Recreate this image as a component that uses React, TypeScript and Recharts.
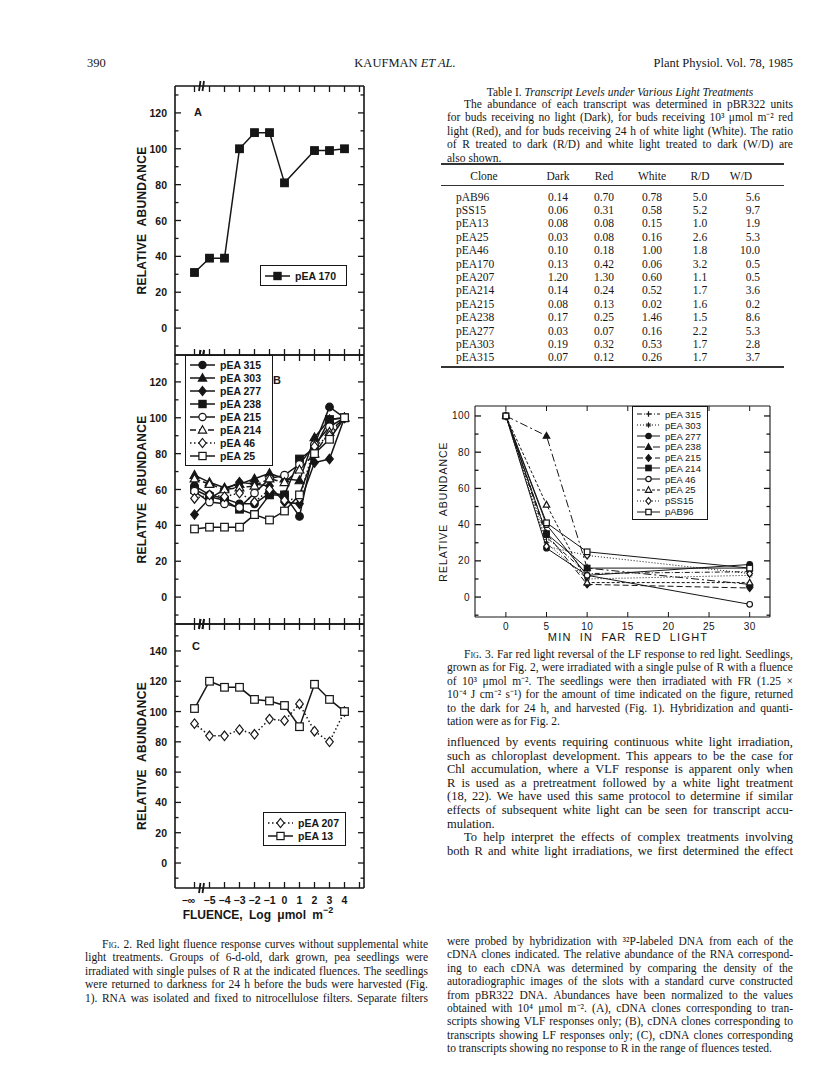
import React from "react";
import { LineChart, Line, XAxis, YAxis, Label } from "recharts";

// ---------- Fig. 2 data (x = log fluence; -6 stands for -∞) ----------
const fluence = [-6, -5, -4, -3, -2, -1, 0, 1, 2, 3, 4];
const fluenceTicks = [-6, -5.5, -5, -4, -3, -2, -1, 0, 1, 2, 3, 4, 5];

const pEA170 = [31, 39, 39, 100, 109, 109, 81, null, 99, 99, 100];

const pEA315 = [62, 57, 55, 52, 52, 58, 57, 45, 85, 106, 100];
const pEA303 = [68, 64, 61, 63, 66, 69, 66, 65, 89, 99, 100];
const pEA277 = [46, 55, 60, 64, 63, 62, 53, 52, 75, 77, 100];
const pEA238 = [60, 56, 54, 49, 46, 57, 57, 77, 83, 99, 100];
const pEA215 = [59, 53, 52, 50, 58, 66, 68, 74, 85, 95, 100];
const pEA214 = [66, 63, 60, 61, 62, 66, 64, 71, 80, 92, 100];
const pEA46 = [55, 57, 56, 58, 53, 60, 54, 55, 84, 90, 100];
const pEA25 = [38, 39, 39, 39, 46, 43, 48, 57, 80, 88, 100];

const pEA207 = [92, 84, 84, 88, 85, 95, 94, 105, 87, 80, 100];
const pEA13 = [102, 120, 116, 116, 108, 107, 104, 90, 118, 108, 100];

// ---------- Fig. 3 data ----------
const minutes = [0, 5, 10, 30];
const fr315 = [100, 33, 13, 14];
const fr303 = [100, 30, 10, 12];
const fr277 = [100, 27, 12, 18];
const fr238 = [100, 89, 16, 7];
const fr215 = [100, 35, 7, 5];
const fr214 = [100, 35, 16, 16];
const fr46 = [100, 40, 12, -4];
const fr25 = [100, 51, 8, 8];
const frSS15 = [100, 28, 23, 13];
const frAB96 = [100, 41, 25, 16];

// ---------- Table I ----------
const clones = ["pAB96", "pSS15", "pEA13", "pEA25", "pEA46", "pEA170", "pEA207", "pEA214", "pEA215", "pEA238", "pEA277", "pEA303", "pEA315"];
const darkVals = ["0.14", "0.06", "0.08", "0.03", "0.10", "0.13", "1.20", "0.14", "0.08", "0.17", "0.03", "0.19", "0.07"];
const redVals = ["0.70", "0.31", "0.08", "0.08", "0.18", "0.42", "1.30", "0.24", "0.13", "0.25", "0.07", "0.32", "0.12"];
const whiteVals = ["0.78", "0.58", "0.15", "0.16", "1.00", "0.06", "0.60", "0.52", "0.02", "1.46", "0.16", "0.53", "0.26"];
const rdVals = ["5.0", "5.2", "1.0", "2.6", "1.8", "3.2", "1.1", "1.7", "1.6", "1.5", "2.2", "1.7", "1.7"];
const wdVals = ["5.6", "9.7", "1.9", "5.3", "10.0", "0.5", "0.5", "3.6", "0.2", "8.6", "5.3", "2.8", "3.7"];

const INK = "#161616";
const SANS = "'Liberation Sans', Arial, Helvetica, sans-serif";
const SERIF = "'Liberation Serif', 'Times New Roman', serif";

type Shape = "circle" | "square" | "triangle" | "diamond" | "plus" | "star";
type Series = { name: string; values: (number | null)[]; shape: Shape; filled: boolean; dash?: string };

const panelA: Series[] = [{ name: "pEA 170", values: pEA170, shape: "square", filled: true }];
const panelB: Series[] = [
  { name: "pEA 315", values: pEA315, shape: "circle", filled: true },
  { name: "pEA 303", values: pEA303, shape: "triangle", filled: true },
  { name: "pEA 277", values: pEA277, shape: "diamond", filled: true },
  { name: "pEA 238", values: pEA238, shape: "square", filled: true },
  { name: "pEA 215", values: pEA215, shape: "circle", filled: false },
  { name: "pEA 214", values: pEA214, shape: "triangle", filled: false, dash: "6 3" },
  { name: "pEA 46", values: pEA46, shape: "diamond", filled: false, dash: "1.5 2.5" },
  { name: "pEA 25", values: pEA25, shape: "square", filled: false },
];
const panelC: Series[] = [
  { name: "pEA 207", values: pEA207, shape: "diamond", filled: false, dash: "1.5 2.5" },
  { name: "pEA 13", values: pEA13, shape: "square", filled: false },
];
const fig3: Series[] = [
  { name: "pEA 315", values: fr315, shape: "plus", filled: false, dash: "5 2 1 2" },
  { name: "pEA 303", values: fr303, shape: "star", filled: false, dash: "1 2" },
  { name: "pEA 277", values: fr277, shape: "circle", filled: true },
  { name: "pEA 238", values: fr238, shape: "triangle", filled: true, dash: "8 3 2 3" },
  { name: "pEA 215", values: fr215, shape: "diamond", filled: true, dash: "6 3" },
  { name: "pEA 214", values: fr214, shape: "square", filled: true },
  { name: "pEA 46", values: fr46, shape: "circle", filled: false },
  { name: "pEA 25", values: fr25, shape: "triangle", filled: false, dash: "3 2" },
  { name: "pSS15", values: frSS15, shape: "diamond", filled: false, dash: "1 2" },
  { name: "pAB96", values: frAB96, shape: "square", filled: false },
];

const toRows = (xs: number[], series: Series[]) =>
  xs.map((x, i) => {
    const row: any = { x };
    series.forEach((s, j) => (row["s" + j] = s.values[i]));
    return row;
  });

function Marker({ cx, cy, shape, filled, r }: any) {
  if (cx == null || cy == null || isNaN(cy)) return <g />;
  const p = { stroke: INK, strokeWidth: 1.2, fill: filled ? INK : "#fff" };
  switch (shape) {
    case "circle":
      return <circle cx={cx} cy={cy} r={r} {...p} />;
    case "square":
      return <rect x={cx - r} y={cy - r} width={2 * r} height={2 * r} {...p} />;
    case "triangle":
      return <polygon points={`${cx},${cy - r * 1.2} ${cx + r * 1.15},${cy + r * 0.85} ${cx - r * 1.15},${cy + r * 0.85}`} {...p} />;
    case "diamond":
      return <polygon points={`${cx},${cy - r * 1.25} ${cx + r},${cy} ${cx},${cy + r * 1.25} ${cx - r},${cy}`} {...p} />;
    case "plus":
      return <path d={`M${cx - r},${cy}H${cx + r}M${cx},${cy - r}V${cy + r}`} stroke={INK} strokeWidth={1.2} />;
    default:
      return (
        <path
          d={`M${cx - r},${cy}H${cx + r}M${cx},${cy - r}V${cy + r}M${cx - r * 0.7},${cy - r * 0.7}L${cx + r * 0.7},${cy + r * 0.7}M${cx - r * 0.7},${cy + r * 0.7}L${cx + r * 0.7},${cy - r * 0.7}`}
          stroke={INK}
          strokeWidth={1}
        />
      );
  }
}

// ---------- tick renderers (tickSize 0 / tickMargin 0 so x,y sit on the axis line) ----------
const yTick = (side: "left" | "right", labelMax: number, font: any, labelGap: number) => (p: any) => {
  const v = p.payload.value;
  const major = v % 20 === 0;
  const d = side === "left" ? 1 : -1;
  return (
    <g>
      <line x1={p.x} x2={p.x + d * (major ? 6 : 3.5)} y1={p.y} y2={p.y} stroke={INK} strokeWidth={1.3} />
      {side === "left" && major && v >= 0 && v <= labelMax && (
        <text x={p.x - labelGap} y={p.y} textAnchor="end" dominantBaseline="central" fill={INK} {...font}>
          {v}
        </text>
      )}
    </g>
  );
};

const boldTick = { fontFamily: SANS, fontSize: 10.5, fontWeight: 700 };

const fluenceTick = (side: "top" | "bottom", labels: boolean) => (p: any) => {
  const v = p.payload.value;
  const d = side === "top" ? 1 : -1;
  if (v === -5.5) {
    return (
      <path
        d={`M${p.x - 3},${p.y + 5} L${p.x - 1.5},${p.y - 5} M${p.x + 0.5},${p.y + 5} L${p.x + 2},${p.y - 5}`}
        stroke={INK}
        strokeWidth={1.8}
      />
    );
  }
  const txt = v === -6 ? "−∞" : v < 0 ? "−" + Math.abs(v) : String(v);
  return (
    <g>
      <line x1={p.x} x2={p.x} y1={p.y} y2={p.y + d * 6} stroke={INK} strokeWidth={1.3} />
      {labels && v <= 4 && (
        <text x={v === -6 ? p.x - 6 : p.x} y={p.y + 12} textAnchor="middle" dominantBaseline="central" fill={INK} {...boldTick}>
          {txt}
        </text>
      )}
    </g>
  );
};

const plainTick = { fontFamily: SANS, fontSize: 10, letterSpacing: 0.4 };

const minuteTick = (side: "top" | "bottom") => (p: any) => {
  const d = side === "top" ? 1 : -1;
  return (
    <g>
      <line x1={p.x} x2={p.x} y1={p.y} y2={p.y + d * 5} stroke={INK} strokeWidth={1} />
      {side === "bottom" && (
        <text x={p.x} y={p.y + 9} textAnchor="middle" dominantBaseline="central" fill={INK} {...plainTick}>
          {p.payload.value}
        </text>
      )}
    </g>
  );
};

const verticalTitle = (x: number, bold: boolean) => (props: any) => {
  const vb = props.viewBox;
  const cy = vb.y + vb.height / 2;
  return (
    <text
      x={vb.x + x}
      y={cy}
      transform={`rotate(-90 ${vb.x + x} ${cy})`}
      textAnchor="middle"
      dominantBaseline="central"
      fill={INK}
      fontFamily={SANS}
      fontSize={bold ? 12 : 10.5}
      fontWeight={bold ? 700 : 400}
      letterSpacing={bold ? 0.3 : 1}
      wordSpacing={4}
    >
      RELATIVE ABUNDANCE
    </text>
  );
};

const fluenceTitle = () => (
  <text x={125} y={297} textAnchor="middle" dominantBaseline="central" fill={INK} fontFamily={SANS} fontSize={12} fontWeight={700} wordSpacing={3}>
    FLUENCE, Log μmol m
    <tspan dy={-5} fontSize={9}>−2</tspan>
  </text>
);

const minTitle = () => (
  <text x={193} y={236} textAnchor="middle" dominantBaseline="central" fill={INK} fontFamily={SANS} fontSize={11} letterSpacing={1.2} wordSpacing={4}>
    MIN IN FAR RED LIGHT
  </text>
);

function FluencePanel({ top, height, series, domain, yTicks, labelMax, bottomLabels }: any) {
  const rows = toRows(fluence, series);
  const axisLine = { stroke: INK, strokeWidth: 1.6 };
  return (
    <div style={{ position: "absolute", left: 133, top }}>
      <LineChart width={240} height={height} data={rows} margin={{ top: 0, right: 0, bottom: 0, left: 0 }}>
        <XAxis dataKey="x" type="number" domain={[-7.3, 5.3]} ticks={fluenceTicks} interval={0} allowDataOverflow height={bottomLabels ? 40 : 6} tickSize={0} tickMargin={0} tickLine={false} axisLine={axisLine} tick={fluenceTick("bottom", bottomLabels)}>
          {bottomLabels && <Label content={fluenceTitle} />}
        </XAxis>
        <XAxis xAxisId="top" orientation="top" dataKey="x" type="number" domain={[-7.3, 5.3]} ticks={fluenceTicks} interval={0} allowDataOverflow height={6} tickSize={0} tickMargin={0} tickLine={false} axisLine={axisLine} tick={fluenceTick("top", false)} />
        <YAxis type="number" domain={domain} ticks={yTicks} interval={0} allowDataOverflow width={42} tickSize={0} tickMargin={0} tickLine={false} axisLine={axisLine} tick={yTick("left", labelMax, boldTick, 8)}>
          <Label content={verticalTitle(9, true)} />
        </YAxis>
        <YAxis yAxisId="right" orientation="right" type="number" domain={domain} ticks={yTicks} interval={0} allowDataOverflow width={9} tickSize={0} tickMargin={0} tickLine={false} axisLine={axisLine} tick={yTick("right", labelMax, boldTick, 8)} />
        {series.map((s: Series, j: number) => (
          <Line
            key={s.name}
            dataKey={"s" + j}
            stroke={INK}
            strokeWidth={1.5}
            strokeDasharray={s.dash}
            connectNulls
            isAnimationActive={false}
            activeDot={false}
            dot={(p: any) => <Marker key={p.index} cx={p.cx} cy={p.cy} shape={s.shape} filled={s.filled} r={3.8} />}
          />
        ))}
      </LineChart>
    </div>
  );
}

function FarRedChart() {
  const rows = toRows(minutes, fig3);
  const axisLine = { stroke: INK, strokeWidth: 1.1 };
  const yT = [-10, 0, 10, 20, 30, 40, 50, 60, 70, 80, 90, 100];
  const xT = [0, 5, 10, 15, 20, 25, 30];
  return (
    <div style={{ position: "absolute", left: 435, top: 401 }}>
      <LineChart width={340} height={246} data={rows} margin={{ top: 0, right: 0, bottom: 0, left: 0 }}>
        <XAxis dataKey="x" type="number" domain={[-3.8, 32.5]} ticks={xT} interval={0} allowDataOverflow height={30} tickSize={0} tickMargin={0} tickLine={false} axisLine={axisLine} tick={minuteTick("bottom")}>
          <Label content={minTitle} />
        </XAxis>
        <XAxis xAxisId="top" orientation="top" dataKey="x" type="number" domain={[-3.8, 32.5]} ticks={xT} interval={0} allowDataOverflow height={5} tickSize={0} tickMargin={0} tickLine={false} axisLine={axisLine} tick={minuteTick("top")} />
        <YAxis type="number" domain={[-11, 105.5]} ticks={yT} interval={0} allowDataOverflow width={40} tickSize={0} tickMargin={0} tickLine={false} axisLine={axisLine} tick={yTick("left", 100, plainTick, 5)}>
          <Label content={verticalTitle(8, false)} />
        </YAxis>
        <YAxis yAxisId="right" orientation="right" type="number" domain={[-11, 105.5]} ticks={yT} interval={0} allowDataOverflow width={5} tickSize={0} tickMargin={0} tickLine={false} axisLine={axisLine} tick={yTick("right", 100, plainTick, 5)} />
        {fig3.map((s, j) => (
          <Line
            key={s.name}
            dataKey={"s" + j}
            stroke={INK}
            strokeWidth={1}
            strokeDasharray={s.dash}
            isAnimationActive={false}
            activeDot={false}
            dot={(p: any) => <Marker key={p.index} cx={p.cx} cy={p.cy} shape={s.shape} filled={s.filled} r={2.8} />}
          />
        ))}
      </LineChart>
    </div>
  );
}

function LegendBox({ left, top, width, rowH, series, swW, r, font, sw, pad }: any) {
  return (
    <div style={{ position: "absolute", left, top, width, border: `1.3px solid ${INK}`, background: "#fff", padding: `${pad}px 0`, boxSizing: "border-box" }}>
      {series.map((s: Series) => (
        <div key={s.name} style={{ display: "flex", alignItems: "center", height: rowH, ...font, color: INK, whiteSpace: "pre" }}>
          <svg width={swW} height={12} style={{ display: "block", marginLeft: 3, marginRight: 4 }}>
            <line x1={1} x2={swW - 1} y1={6} y2={6} stroke={INK} strokeWidth={sw} strokeDasharray={s.dash} />
            <Marker cx={swW / 2} cy={6} shape={s.shape} filled={s.filled} r={r} />
          </svg>
          <span>{s.name}</span>
        </div>
      ))}
    </div>
  );
}

// ---------- text ----------
const LH = 13.4;
function Word({ w }: { w: string }) {
  if (w === "FIG.") return <span style={{ fontVariant: "small-caps" }}>Fig.</span>;
  return <span>{w}</span>;
}
function Para({ x, y, w, lines, size, indent = 0, lh = LH, lastJustified = false }: any) {
  return (
    <>
      {lines.map((t: string, i: number) => {
        const justify = i < lines.length - 1 || lastJustified;
        const ind = i === 0 ? indent : 0;
        const words = t.split(" ");
        return (
          <div
            key={i}
            style={{
              position: "absolute",
              left: x + ind,
              top: y + i * lh,
              width: w - ind,
              height: lh,
              display: "flex",
              justifyContent: justify ? "space-between" : "flex-start",
              gap: justify ? 0 : size * 0.25,
              fontSize: size,
              lineHeight: lh + "px",
              whiteSpace: "nowrap",
              color: INK,
            }}
          >
            {words.map((wd, k) => (
              <Word key={k} w={wd} />
            ))}
          </div>
        );
      })}
    </>
  );
}

const tableIntro = [
  "The abundance of each transcript was determined in pBR322 units",
  "for buds receiving no light (Dark), for buds receiving 10³ μmol m⁻² red",
  "light (Red), and for buds receiving 24 h of white light (White). The ratio",
  "of R treated to dark (R/D) and white light treated to dark (W/D) are",
  "also shown.",
];
const fig3Caption = [
  "FIG. 3. Far red light reversal of the LF response to red light. Seedlings,",
  "grown as for Fig. 2, were irradiated with a single pulse of R with a fluence",
  "of 10³ μmol m⁻². The seedlings were then irradiated with FR (1.25 ×",
  "10⁻⁴ J cm⁻² s⁻¹) for the amount of time indicated on the figure, returned",
  "to the dark for 24 h, and harvested (Fig. 1). Hybridization and quanti-",
  "tation were as for Fig. 2.",
];
const body1 = [
  "influenced by events requiring continuous white light irradiation,",
  "such as chloroplast development. This appears to be the case for",
  "Chl accumulation, where a VLF response is apparent only when",
  "R is used as a pretreatment followed by a white light treatment",
  "(18, 22). We have used this same protocol to determine if similar",
  "effects of subsequent white light can be seen for transcript accu-",
  "mulation.",
];
const body2 = [
  "To help interpret the effects of complex treatments involving",
  "both R and white light irradiations, we first determined the effect",
];
const fig2CaptionRight = [
  "were probed by hybridization with ³²P-labeled DNA from each of the",
  "cDNA clones indicated. The relative abundance of the RNA correspond-",
  "ing to each cDNA was determined by comparing the density of the",
  "autoradiographic images of the slots with a standard curve constructed",
  "from pBR322 DNA. Abundances have been normalized to the values",
  "obtained with 10⁴ μmol m⁻². (A), cDNA clones corresponding to tran-",
  "scripts showing VLF responses only; (B), cDNA clones corresponding to",
  "transcripts showing LF responses only; (C), cDNA clones corresponding",
  "to transcripts showing no response to R in the range of fluences tested.",
];
const fig2CaptionLeft = [
  "FIG. 2. Red light fluence response curves without supplemental white",
  "light treatments. Groups of 6-d-old, dark grown, pea seedlings were",
  "irradiated with single pulses of R at the indicated fluences. The seedlings",
  "were returned to darkness for 24 h before the buds were harvested (Fig.",
  "1). RNA was isolated and fixed to nitrocellulose filters. Separate filters",
];

const RX = 447; // right column
const RW = 346;
const LXc = 85; // left column
const LW = 343;

function TableI() {
  const cols = [
    { key: "clone", vals: clones, left: 456, align: "left", w: 70, head: "Clone", headCenter: 484 },
    { key: "dark", vals: darkVals, left: 538, align: "center", w: 40, head: "Dark" },
    { key: "red", vals: redVals, left: 584, align: "center", w: 40, head: "Red" },
    { key: "white", vals: whiteVals, left: 631, align: "center", w: 42, head: "White" },
    { key: "rd", vals: rdVals, left: 680, align: "center", w: 40, head: "R/D" },
    { key: "wd", vals: wdVals, left: 722, align: "right", w: 38, head: "W/D" },
  ];
  const cell = (extra: any) => ({ position: "absolute" as const, fontSize: 11.5, lineHeight: "13px", color: INK, whiteSpace: "nowrap" as const, ...extra });
  return (
    <>
      <div style={{ position: "absolute", left: 441, top: 163, width: 343, height: 1.5, background: "#333" }} />
      {cols.map((c) => (
        <div key={c.key + "h"} style={cell({ left: c.key === "clone" ? c.headCenter! - 30 : c.left - 6, top: 170, width: c.key === "clone" ? 60 : c.w + 12, textAlign: "center" })}>
          {c.head}
        </div>
      ))}
      <div style={{ position: "absolute", left: 441, top: 185, width: 343, height: 1.2, background: "#333" }} />
      {cols.map((c) =>
        c.vals.map((v, i) => (
          <div key={c.key + i} style={cell({ left: c.left, top: 190.5 + i * 13.4, width: c.w, textAlign: c.align })}>
            {v}
          </div>
        ))
      )}
      <div style={{ position: "absolute", left: 441, top: 366, width: 343, height: 1.5, background: "#333" }} />
    </>
  );
}

export default function App() {
  return (
    <div style={{ position: "absolute", left: 0, top: 0, width: 816, height: 1073, background: "#fff", overflow: "hidden", fontFamily: SERIF, color: INK }}>
      {/* running head */}
      <div style={{ position: "absolute", left: 87, top: 56, fontSize: 12.5 }}>390</div>
      <div style={{ position: "absolute", left: 305, top: 56, width: 200, textAlign: "center", fontSize: 12.5 }}>
        KAUFMAN <i>ET AL.</i>
      </div>
      <div style={{ position: "absolute", left: 593, top: 56, width: 200, textAlign: "right", fontSize: 12.5 }}>Plant Physiol. Vol. 78, 1985</div>

      {/* Fig. 2 */}
      <FluencePanel top={80} height={281} series={panelA} domain={[-15, 135]} yTicks={[-10, 0, 10, 20, 30, 40, 50, 60, 70, 80, 90, 100, 110, 120, 130]} labelMax={120} bottomLabels={false} />
      <FluencePanel top={349} height={281} series={panelB} domain={[-15, 135]} yTicks={[-10, 0, 10, 20, 30, 40, 50, 60, 70, 80, 90, 100, 110, 120, 130]} labelMax={120} bottomLabels={false} />
      <FluencePanel top={618} height={310} series={panelC} domain={[-16.5, 157.8]} yTicks={[-10, 0, 10, 20, 30, 40, 50, 60, 70, 80, 90, 100, 110, 120, 130, 140, 150]} labelMax={140} bottomLabels={true} />
      <div style={{ position: "absolute", left: 194, top: 106, fontFamily: SANS, fontWeight: 700, fontSize: 11 }}>A</div>
      <div style={{ position: "absolute", left: 273, top: 374, fontFamily: SANS, fontWeight: 700, fontSize: 11 }}>B</div>
      <div style={{ position: "absolute", left: 192, top: 640, fontFamily: SANS, fontWeight: 700, fontSize: 11 }}>C</div>
      <LegendBox left={260} top={265} width={87} rowH={17} series={panelA} swW={27} r={3.6} sw={1.5} pad={1} font={{ fontFamily: SANS, fontWeight: 700, fontSize: 10.5 }} />
      <LegendBox left={185} top={355} width={88} rowH={13.1} series={panelB} swW={27} r={3.6} sw={1.5} pad={2} font={{ fontFamily: SANS, fontWeight: 700, fontSize: 10.5 }} />
      <LegendBox left={263} top={812} width={83} rowH={13} series={panelC} swW={27} r={3.6} sw={1.5} pad={3} font={{ fontFamily: SANS, fontWeight: 700, fontSize: 10.5 }} />

      {/* Fig. 3 */}
      <FarRedChart />
      <LegendBox left={632} top={406} width={76} rowH={10.8} series={fig3} swW={25} r={2.7} sw={1} pad={2} font={{ fontFamily: SANS, fontSize: 9.5 }} />

      {/* Table I */}
      <div style={{ position: "absolute", left: RX, top: 86, width: RW, textAlign: "center", fontSize: 11.5 }}>
        Table I. <i>Transcript Levels under Various Light Treatments</i>
      </div>
      <Para x={RX} y={98} w={RW} size={11.5} indent={17} lines={tableIntro} />
      <TableI />

      <Para x={RX} y={648} w={RW} size={11.5} indent={17} lines={fig3Caption} />
      <Para x={RX} y={736} w={RW} size={12.5} lh={13.6} lines={body1} />
      <Para x={RX} y={736 + 7 * 13.6} w={RW} size={12.5} lh={13.6} indent={17} lines={body2} lastJustified />
      <Para x={RX} y={935} w={RW} size={11.5} lines={fig2CaptionRight} />
      <Para x={LXc} y={938} w={LW} size={11.5} indent={17} lines={fig2CaptionLeft} lastJustified />
    </div>
  );
}
